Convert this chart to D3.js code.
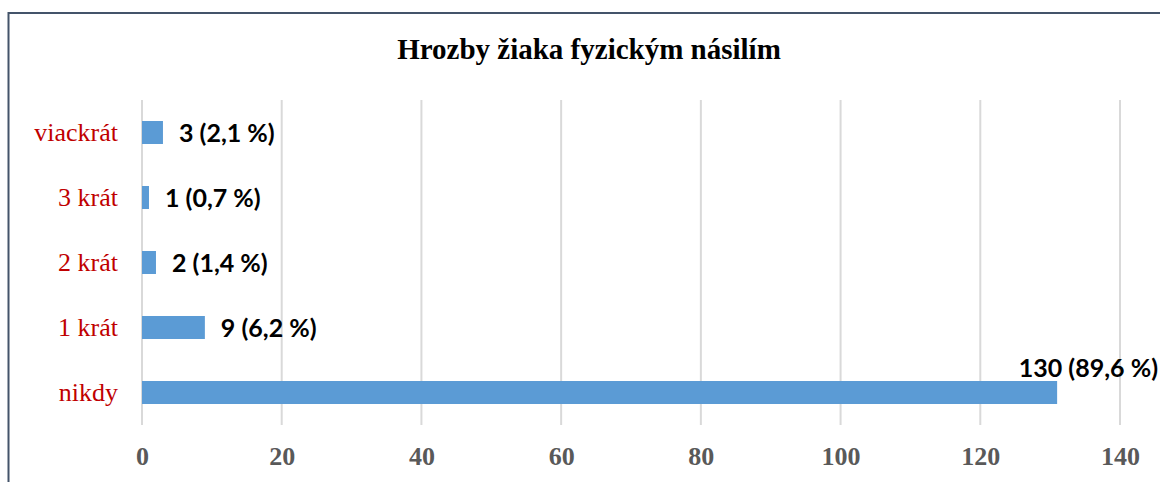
<!DOCTYPE html>
<html>
<head>
<meta charset="utf-8">
<script src="https://cdn.jsdelivr.net/npm/d3@7"></script>
<style>
  html, body { margin: 0; padding: 0; background: #fff; }
  svg { display: block; }
</style>
</head>
<body>
<svg id="chart" width="1160" height="482"></svg>
<script>
const title = "Hrozby žiaka fyzickým násilím";
const categories = ["viackrát", "3 krát", "2 krát", "1 krát", "nikdy"];
const values = [3, 1, 2, 9, 131];
const labels = ["3 (2,1 %)", "1 (0,7 %)", "2 (1,4 %)", "9 (6,2 %)", "130 (89,6 %)"];
const xTicks = [0, 20, 40, 60, 80, 100, 120, 140];

const svg = d3.select("#chart");
const W = 1160, H = 482;
const m = { left: 142, right: 40, top: 100, bottom: 57 };

// frame
svg.append("rect")
  .attr("x", 8.5).attr("y", 13)
  .attr("width", W + 20).attr("height", H + 20)
  .attr("fill", "#fff")
  .attr("stroke", "#44546a").attr("stroke-width", 2);

const x = d3.scaleLinear().domain([0, 140]).range([m.left, 1120]);
const y = d3.scaleBand().domain(categories).range([m.top, H - m.bottom]).paddingInner(0.646).paddingOuter(0.323);

// title
svg.append("text")
  .attr("x", 589).attr("y", 59)
  .attr("text-anchor", "middle")
  .attr("font-family", "'Liberation Serif', 'Times New Roman', serif")
  .attr("font-weight", "bold").attr("font-size", 29)
  .attr("fill", "#000")
  .text(title);

// gridlines
svg.append("g").selectAll("line").data(xTicks).join("line")
  .attr("x1", d => x(d)).attr("x2", d => x(d))
  .attr("y1", m.top).attr("y2", H - m.bottom)
  .attr("stroke", "#d9d9d9").attr("stroke-width", 2);

// x axis tick labels
const xAxis = d3.axisBottom(x).tickValues(xTicks).tickSize(0).tickPadding(0).tickFormat(d3.format("d"));
const gx = svg.append("g").attr("transform", `translate(0, 465)`).call(xAxis);
gx.select(".domain").remove();
gx.selectAll("text")
  .attr("dy", 0).attr("y", 0)
  .attr("font-family", "'Liberation Serif', 'Times New Roman', serif")
  .attr("font-weight", "bold").attr("font-size", 26)
  .attr("fill", "#595959");

// y axis labels
const yAxis = d3.axisLeft(y).tickSize(0).tickPadding(0);
const gy = svg.append("g").attr("transform", `translate(118, 0)`).call(yAxis);
gy.select(".domain").remove();
gy.selectAll("text")
  .attr("dy", "0.32em")
  .attr("font-family", "'Liberation Serif', 'Times New Roman', serif")
  .attr("font-size", 26)
  .attr("fill", "#c00000");

// bars
svg.append("g").selectAll("rect").data(categories).join("rect")
  .attr("x", x(0))
  .attr("y", d => y(d))
  .attr("width", (d, i) => x(values[i]) - x(0))
  .attr("height", y.bandwidth())
  .attr("fill", "#5b9bd5");

// data labels
const last = categories.length - 1;
svg.append("g").selectAll("text").data(categories).join("text")
  .attr("x", (d, i) => i === last ? 1158 : x(values[i]) + 16)
  .attr("y", (d, i) => i === last ? y(d) - 4 : y(d) + y.bandwidth() / 2)
  .attr("dy", (d, i) => i === last ? 0 : "0.36em")
  .attr("text-anchor", (d, i) => i === last ? "end" : "start")
  .attr("font-family", "Lato, 'Open Sans', sans-serif")
  .attr("font-weight", "bold").attr("font-size", 25)
  .attr("fill", "#000")
  .text((d, i) => labels[i]);
</script>
</body>
</html>
